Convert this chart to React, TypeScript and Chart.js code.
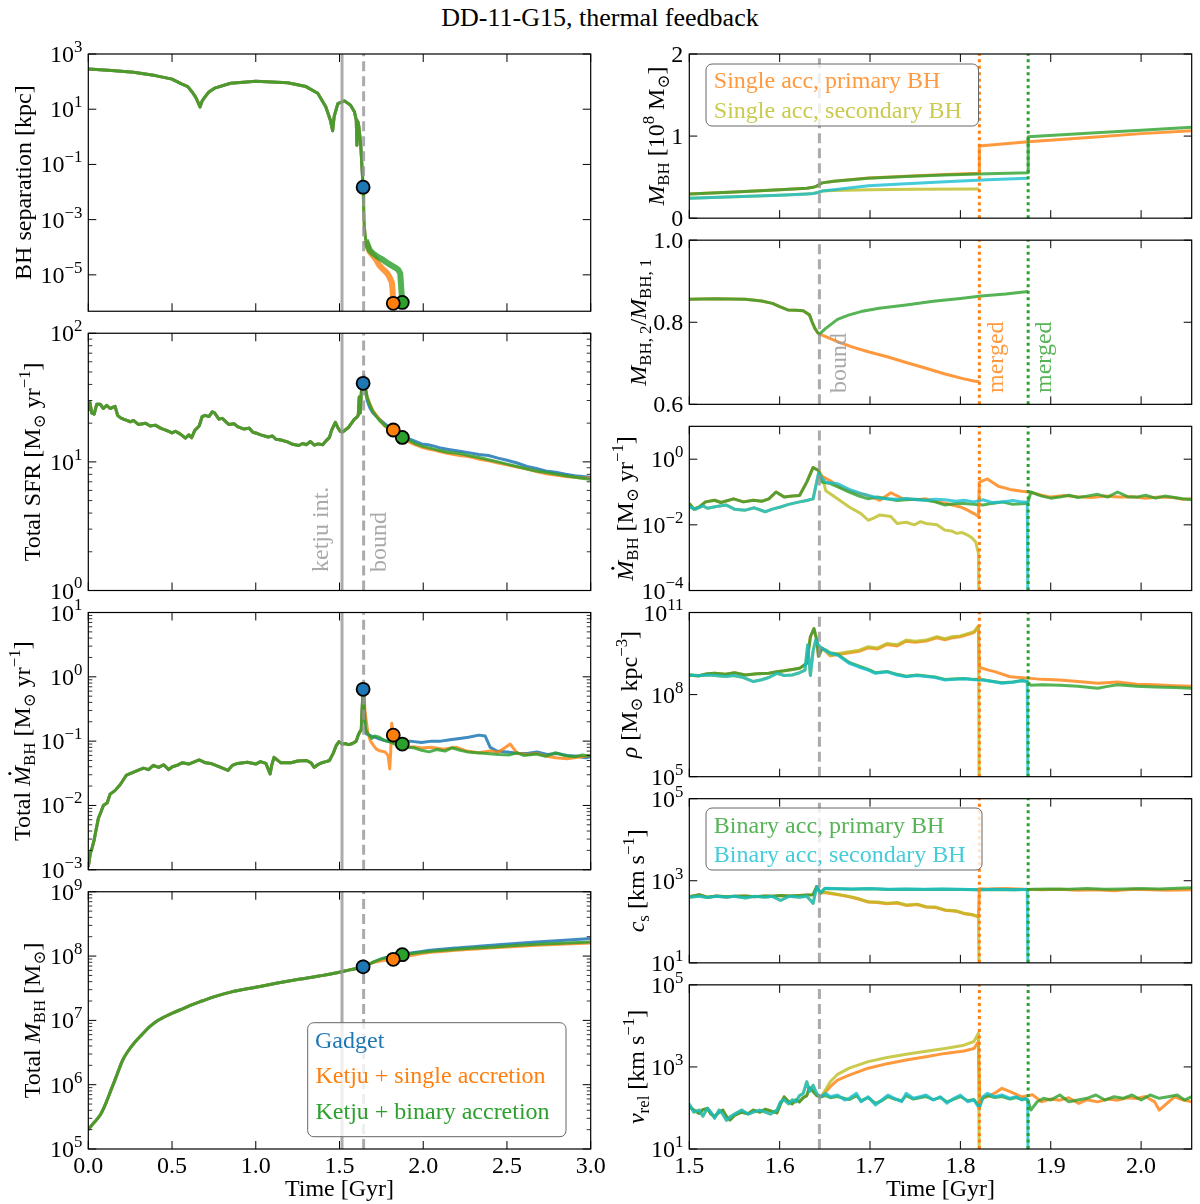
import React, { useEffect, useRef } from "react";
import { Chart, registerables } from "chart.js";

Chart.register(...registerables);

/* ============================ DATA ============================ */
// event times [Gyr]
const tKetju = 1.515;
const tBound = 1.644;
const tMergeSgl = 1.821;
const tMergeBin = 1.875;

// merger markers: Gadget, Ketju single, Ketju binary
const mrkT = [1.641, 1.821, 1.875];
const mrkSep = [0.015, 9.3e-7, 1.0e-6];
const mrkSfr = [40.8, 17.7, 15.5];
const mrkMdot = [0.64, 0.124, 0.09];
const mrkMass = [6.8e7, 8.9e7, 1.05e8];

// ---- left 1: BH separation [kpc]
const sepPreT = [0, 0.14, 0.27, 0.40, 0.50, 0.56, 0.594, 0.62, 0.64, 0.655, 0.667, 0.68, 0.697, 0.72, 0.754, 0.85, 1.0, 1.19, 1.30, 1.37, 1.418, 1.445, 1.459, 1.468, 1.49, 1.53, 1.566, 1.589, 1.600, 1.604, 1.610, 1.615, 1.622, 1.628, 1.634, 1.641];
const sepPre = [286, 250, 219, 165, 123, 81, 66, 42, 28, 18, 12, 20, 28, 42, 58, 87, 102, 91, 66, 38, 12.3, 4.1, 1.66, 5.4, 16, 20, 14, 8.1, 4.1, 0.5, 3.5, 2.5, 1.0, 0.4, 0.083, 0.015];
const sepBinT = [1.644, 1.648, 1.657, 1.68, 1.70, 1.726, 1.75, 1.784, 1.81, 1.835, 1.852, 1.863, 1.869, 1.875];
const sepBin = [3e-3, 5.5e-4, 1.8e-4, 7.9e-5, 6e-5, 4.6e-5, 3.8e-5, 2.75e-5, 2.2e-5, 1.8e-5, 1.5e-5, 1.1e-5, 3e-6, 1e-6];
const sepSglT = [1.644, 1.648, 1.657, 1.68, 1.70, 1.72, 1.738, 1.76, 1.784, 1.80, 1.806, 1.812, 1.817, 1.821];
const sepSgl = [3e-3, 5.5e-4, 1.6e-4, 7e-5, 5e-5, 3.5e-5, 2.2e-5, 1.6e-5, 1.15e-5, 8e-6, 6.5e-6, 5.5e-6, 3e-6, 9.3e-7];

// ---- left 2: total SFR
const sfrPreT = [0, 0.01, 0.02, 0.035, 0.05, 0.072, 0.09, 0.11, 0.13, 0.16, 0.175, 0.193, 0.21, 0.23, 0.251, 0.27, 0.30, 0.342, 0.37, 0.40, 0.434, 0.47, 0.50, 0.52, 0.548, 0.58, 0.60, 0.617, 0.635, 0.662, 0.68, 0.697, 0.72, 0.74, 0.754, 0.78, 0.80, 0.84, 0.87, 0.891, 0.93, 0.96, 0.983, 1.01, 1.03, 1.074, 1.10, 1.12, 1.15, 1.189, 1.22, 1.257, 1.28, 1.303, 1.326, 1.35, 1.372, 1.40, 1.418, 1.44, 1.452, 1.475, 1.49, 1.505, 1.52, 1.555, 1.589, 1.60, 1.612, 1.618, 1.624, 1.63, 1.636, 1.641];
const sfrPre = [25, 29, 24, 23.5, 28, 28, 26, 27.5, 26, 27, 23, 22, 21.5, 21, 20.5, 21, 19.5, 20, 19, 19.3, 18.2, 17.5, 16.8, 17.3, 16.5, 15.3, 16.2, 15.4, 17.5, 19, 22.5, 23, 22.5, 24.5, 24, 21.5, 21.8, 19.5, 19.8, 18.8, 18, 18.3, 17, 16.6, 16.2, 15.6, 15.9, 15, 14.8, 14.3, 13.7, 13.4, 13.9, 13.6, 14.4, 13.5, 13.8, 13.6, 14.5, 15.5, 17.5, 20.3, 18.5, 17.2, 17.1, 18.6, 21.5, 22, 23, 32, 24, 34, 41, 41];
const sfrPostT = [1.646, 1.655, 1.665, 1.68, 1.70, 1.738, 1.77, 1.80, 1.821, 1.84, 1.875, 1.92, 1.95, 1.99, 2.03, 2.07, 2.104, 2.15, 2.218, 2.27, 2.333, 2.39, 2.447, 2.50, 2.561, 2.62, 2.676, 2.73, 2.79, 2.85, 2.905, 2.95, 3.0];
const sfrBin = [47, 38, 32, 28, 24.5, 21, 19.2, 18, 17.3, 16.3, 15.5, 14.6, 13.9, 13.3, 12.9, 12.5, 12.2, 11.9, 11.6, 11.2, 10.8, 10.4, 10.0, 9.6, 9.2, 8.8, 8.5, 8.3, 8.05, 7.8, 7.6, 7.45, 7.3];
const sfrGad = [44, 36, 30, 26.5, 24, 21.5, 19.8, 18.5, 17.8, 17, 16, 15, 14.5, 13.8, 13.6, 13.2, 12.8, 12.5, 12.1, 11.8, 11.4, 11.2, 10.7, 10.3, 9.8, 9.2, 8.9, 8.5, 8.3, 8.0, 7.8, 7.7, 7.6];
const sfrSgl = [46, 37, 32, 28.5, 25, 21.5, 19, 18, 17.7, 16.5, 15.2, 14.2, 13.6, 13, 12.6, 12.3, 12, 11.6, 11.2, 11.0, 10.5, 10.2, 9.8, 9.5, 9.1, 8.8, 8.4, 8.1, 7.9, 7.7, 7.6, 7.5, 7.5];

// ---- left 3: total BH accretion rate
const mdotPreT = [0, 0.012, 0.023, 0.035, 0.045, 0.06, 0.072, 0.09, 0.113, 0.13, 0.159, 0.19, 0.228, 0.26, 0.296, 0.33, 0.36, 0.388, 0.42, 0.45, 0.48, 0.502, 0.53, 0.56, 0.60, 0.662, 0.70, 0.731, 0.78, 0.834, 0.86, 0.891, 0.95, 1.0, 1.028, 1.06, 1.086, 1.095, 1.109, 1.15, 1.211, 1.25, 1.303, 1.33, 1.349, 1.37, 1.394, 1.42, 1.44, 1.463, 1.48, 1.497, 1.515, 1.532, 1.555, 1.578, 1.60, 1.612, 1.622, 1.630, 1.636, 1.641];
const mdotPre = [1.1e-3, 1.8e-3, 2.2e-3, 2.9e-3, 4.0e-3, 6.3e-3, 7.5e-3, 1.0e-2, 1.1e-2, 1.5e-2, 1.7e-2, 2.1e-2, 2.97e-2, 3.2e-2, 3.5e-2, 3.8e-2, 3.6e-2, 4.2e-2, 3.9e-2, 4.3e-2, 3.6e-2, 4.0e-2, 4.2e-2, 4.6e-2, 4.4e-2, 5.1e-2, 4.6e-2, 4.5e-2, 4.0e-2, 3.5e-2, 4.2e-2, 4.5e-2, 4.7e-2, 4.4e-2, 4.8e-2, 4.5e-2, 3.1e-2, 4.2e-2, 5.6e-2, 4.6e-2, 4.6e-2, 4.9e-2, 5.0e-2, 4.6e-2, 3.9e-2, 4.3e-2, 4.6e-2, 4.8e-2, 5.0e-2, 6.5e-2, 8.5e-2, 9.8e-2, 9.0e-2, 9.2e-2, 8.8e-2, 9.2e-2, 0.1, 0.124, 0.14, 0.15, 0.35, 0.62];
const mdotGadT = [1.646, 1.652, 1.66, 1.692, 1.73, 1.78, 1.83, 1.87, 1.92, 1.99, 2.05, 2.104, 2.16, 2.218, 2.27, 2.333, 2.37, 2.40, 2.44, 2.5, 2.56, 2.62, 2.68, 2.74, 2.8, 2.86, 2.92, 2.97, 3.0];
const mdotGad = [0.4, 0.2, 0.13, 0.12, 0.11, 0.1, 0.095, 0.09, 0.1, 0.095, 0.1, 0.1, 0.105, 0.11, 0.115, 0.124, 0.12, 0.08, 0.07, 0.068, 0.065, 0.064, 0.068, 0.062, 0.064, 0.06, 0.058, 0.055, 0.057];
const mdotBinT = [1.646, 1.652, 1.657, 1.67, 1.692, 1.71, 1.738, 1.76, 1.784, 1.81, 1.83, 1.85, 1.875, 1.90, 1.944, 1.99, 2.035, 2.08, 2.13, 2.172, 2.22, 2.264, 2.32, 2.378, 2.45, 2.516, 2.56, 2.6, 2.676, 2.73, 2.79, 2.85, 2.905, 2.95, 3.0];
const mdotBin = [0.45, 0.2, 0.15, 0.13, 0.11, 0.12, 0.115, 0.105, 0.10, 0.095, 0.09, 0.086, 0.09, 0.08, 0.079, 0.072, 0.068, 0.074, 0.07, 0.079, 0.072, 0.068, 0.066, 0.064, 0.062, 0.061, 0.066, 0.06, 0.063, 0.058, 0.066, 0.059, 0.057, 0.061, 0.058];
const mdotSglT = [1.646, 1.652, 1.669, 1.685, 1.703, 1.72, 1.738, 1.772, 1.79, 1.80, 1.806, 1.812, 1.821, 1.83, 1.86, 1.90, 1.94, 1.99, 2.05, 2.12, 2.2, 2.26, 2.33, 2.40, 2.45, 2.52, 2.56, 2.62, 2.68, 2.74, 2.79, 2.86, 2.92, 3.0];
const mdotSgl = [0.5, 0.3, 0.135, 0.1, 0.086, 0.075, 0.071, 0.068, 0.06, 0.037, 0.07, 0.19, 0.124, 0.095, 0.085, 0.08, 0.082, 0.078, 0.08, 0.075, 0.08, 0.07, 0.066, 0.07, 0.068, 0.09, 0.065, 0.062, 0.064, 0.058, 0.055, 0.053, 0.056, 0.06];

// ---- left 4: total BH mass
const massPreT = [0, 0.03, 0.072, 0.1, 0.136, 0.17, 0.205, 0.24, 0.273, 0.32, 0.365, 0.41, 0.457, 0.509, 0.56, 0.617, 0.68, 0.754, 0.85, 1.006, 1.13, 1.257, 1.38, 1.486, 1.56, 1.641];
const massPre = [2.0e5, 2.5e5, 3.4e5, 4.8e5, 8.3e5, 1.4e6, 2.4e6, 3.4e6, 4.4e6, 6.0e6, 7.9e6, 9.8e6, 1.14e7, 1.32e7, 1.5e7, 1.74e7, 2.0e7, 2.34e7, 2.75e7, 3.3e7, 3.8e7, 4.35e7, 4.9e7, 5.5e7, 6.1e7, 6.8e7];
const massPostT = [1.70, 1.76, 1.821, 1.875, 1.99, 2.218, 2.447, 2.676, 3.0];
const massBin = [8.0e7, 9.2e7, 9.9e7, 1.05e8, 1.15e8, 1.29e8, 1.4e8, 1.52e8, 1.66e8];
const massSgl = [7.9e7, 8.5e7, 8.9e7, 9.6e7, 1.1e8, 1.24e8, 1.36e8, 1.47e8, 1.6e8];
const massGad = [8.0e7, 9.2e7, 1.0e8, 1.06e8, 1.18e8, 1.35e8, 1.5e8, 1.65e8, 1.88e8];

// ---- right 1: individual BH mass [1e8 Msun]
const mPreT = [1.5, 1.55, 1.6, 1.63, 1.637, 1.641, 1.644, 1.647];
const mPrim = [0.295, 0.318, 0.345, 0.365, 0.376, 0.39, 0.41, 0.43];
const mSec = [0.242, 0.26, 0.28, 0.295, 0.30, 0.31, 0.32, 0.33];
const mBinT = [1.66, 1.698, 1.74, 1.783, 1.83, 1.875, 1.875, 1.95, 2.0, 2.056];
const mBinPrim = [0.45, 0.486, 0.508, 0.526, 0.542, 0.554, 0.993, 1.04, 1.07, 1.107];
const mBinSecT = [1.66, 1.698, 1.74, 1.783, 1.83, 1.875];
const mBinSec = [0.345, 0.396, 0.42, 0.444, 0.468, 0.486];
const mSglT = [1.66, 1.698, 1.74, 1.783, 1.821, 1.821, 1.875, 1.95, 2.0, 2.056];
const mSglPrim = [0.45, 0.488, 0.512, 0.532, 0.548, 0.879, 0.932, 0.99, 1.03, 1.066];
const mSglSecT = [1.66, 1.70, 1.75, 1.821];
const mSglSec = [0.338, 0.345, 0.352, 0.355];

// ---- right 2: mass ratio
const qPreT = [1.5, 1.528, 1.562, 1.58, 1.592, 1.60, 1.609, 1.618, 1.626, 1.633, 1.636, 1.639, 1.642, 1.644];
const qPre = [0.856, 0.857, 0.856, 0.852, 0.846, 0.838, 0.830, 0.829, 0.828, 0.818, 0.80, 0.785, 0.775, 0.771];
const qBinT = [1.651, 1.664, 1.677, 1.69, 1.71, 1.74, 1.77, 1.80, 1.823, 1.85, 1.875];
const qBin = [0.785, 0.807, 0.818, 0.826, 0.834, 0.842, 0.851, 0.858, 0.864, 0.869, 0.875];
const qSglT = [1.651, 1.664, 1.68, 1.698, 1.719, 1.74, 1.762, 1.783, 1.804, 1.815, 1.821];
const qSgl = [0.765, 0.753, 0.74, 0.728, 0.716, 0.702, 0.688, 0.674, 0.662, 0.657, 0.655];

// ---- right 3: individual accretion rates (0 = no longer accreting)
const mdPreT = [1.5, 1.505, 1.511, 1.518, 1.528, 1.535, 1.549, 1.56, 1.571, 1.58, 1.588, 1.596, 1.605, 1.614, 1.622, 1.630, 1.637, 1.643];
const mdPrePrim = [0.045, 0.03, 0.035, 0.05, 0.056, 0.048, 0.062, 0.05, 0.056, 0.052, 0.062, 0.1, 0.07, 0.075, 0.078, 0.2, 0.56, 0.45];
const mdPreSecT = [1.5, 1.507, 1.515, 1.52, 1.53, 1.541, 1.55, 1.562, 1.572, 1.584, 1.592, 1.601, 1.61, 1.622, 1.63, 1.637, 1.643];
const mdPreSec = [0.035, 0.03, 0.038, 0.032, 0.036, 0.04, 0.03, 0.028, 0.033, 0.025, 0.03, 0.035, 0.042, 0.05, 0.055, 0.062, 0.37];
const mdBinPrimT = [1.647, 1.656, 1.665, 1.677, 1.688, 1.698, 1.708, 1.719, 1.73, 1.74, 1.75, 1.762, 1.772, 1.783, 1.795, 1.804, 1.815, 1.825, 1.835, 1.846, 1.858, 1.872, 1.875, 1.878, 1.89, 1.90, 1.91, 1.92, 1.93, 1.94, 1.952, 1.963, 1.974, 1.985, 1.995, 2.005, 2.016, 2.026, 2.037, 2.046, 2.056];
const mdBinPrim = [0.2, 0.18, 0.14, 0.1, 0.075, 0.062, 0.07, 0.062, 0.055, 0.058, 0.06, 0.056, 0.05, 0.04, 0.045, 0.045, 0.042, 0.04, 0.045, 0.05, 0.042, 0.045, 0.05, 0.1, 0.075, 0.065, 0.07, 0.08, 0.068, 0.075, 0.085, 0.07, 0.1, 0.072, 0.07, 0.08, 0.065, 0.075, 0.068, 0.062, 0.058];
const mdSglPrimT = [1.647, 1.656, 1.665, 1.677, 1.688, 1.698, 1.711, 1.723, 1.735, 1.740, 1.752, 1.762, 1.774, 1.785, 1.791, 1.80, 1.808, 1.815, 1.82, 1.821, 1.830, 1.842, 1.855, 1.868, 1.876, 1.89, 1.90, 1.915, 1.93, 1.945, 1.96, 1.975, 1.99, 2.005, 2.02, 2.035, 2.046, 2.056];
const mdSglPrim = [0.3, 0.22, 0.15, 0.11, 0.09, 0.078, 0.056, 0.095, 0.065, 0.062, 0.058, 0.062, 0.05, 0.045, 0.04, 0.035, 0.028, 0.022, 0.018, 0.2, 0.25, 0.15, 0.12, 0.105, 0.1, 0.08, 0.07, 0.078, 0.072, 0.068, 0.075, 0.07, 0.072, 0.065, 0.07, 0.068, 0.06, 0.062];
const mdBinSecT = [1.651, 1.664, 1.677, 1.69, 1.698, 1.71, 1.719, 1.73, 1.74, 1.752, 1.762, 1.772, 1.783, 1.795, 1.804, 1.815, 1.825, 1.835, 1.846, 1.858, 1.868, 1.874, 1.875];
const mdBinSec = [0.2, 0.18, 0.12, 0.09, 0.078, 0.065, 0.062, 0.06, 0.064, 0.058, 0.056, 0.06, 0.058, 0.052, 0.056, 0.05, 0.058, 0.048, 0.05, 0.055, 0.05, 0.05, 0];
const mdSglSecT = [1.647, 1.651, 1.664, 1.677, 1.69, 1.698, 1.704, 1.711, 1.723, 1.73, 1.740, 1.749, 1.756, 1.762, 1.774, 1.783, 1.79, 1.796, 1.802, 1.808, 1.813, 1.817, 1.82, 1.821];
const mdSglSec = [0.3, 0.11, 0.062, 0.035, 0.022, 0.0138, 0.016, 0.02, 0.018, 0.011, 0.012, 0.01, 0.0125, 0.011, 0.01, 0.0069, 0.0065, 0.0055, 0.0058, 0.0049, 0.004, 0.003, 0.00134, 0];

// ---- right 4: gas density around BH
const rhoPreT = [1.5, 1.51, 1.52, 1.528, 1.54, 1.55, 1.562, 1.575, 1.588, 1.597, 1.605, 1.614, 1.622, 1.630, 1.634, 1.638, 1.641, 1.643, 1.647];
const rhoPrePrim = [5.2e8, 4.8e8, 5.8e8, 6.0e8, 5.5e8, 6.3e8, 5.2e8, 5.8e8, 6.0e8, 6.8e8, 7.4e8, 8.3e8, 9.1e8, 1.4e9, 1.3e10, 2.6e10, 1.0e10, 2.5e9, 4.9e9];
const rhoPreSecT = [1.5, 1.51, 1.52, 1.528, 1.541, 1.549, 1.56, 1.571, 1.58, 1.588, 1.597, 1.605, 1.614, 1.622, 1.628, 1.631, 1.634, 1.637, 1.64, 1.643, 1.647];
const rhoPreSec = [5.2e8, 5.0e8, 5.2e8, 5.0e8, 4.6e8, 5.0e8, 4.2e8, 3.0e8, 3.5e8, 4.2e8, 6.0e8, 5.0e8, 5.2e8, 6.3e8, 7.9e8, 6.5e9, 5.0e8, 4.0e9, 1.0e10, 6.3e9, 4.9e9];
const rhoBinPrimT = [1.651, 1.656, 1.664, 1.677, 1.688, 1.698, 1.706, 1.719, 1.73, 1.740, 1.752, 1.762, 1.772, 1.783, 1.795, 1.804, 1.815, 1.825, 1.835, 1.846, 1.858, 1.868, 1.874, 1.878, 1.89, 1.91, 1.93, 1.952, 1.963, 1.974, 1.995, 2.015, 2.037, 2.056];
const rhoBinPrim = [4.2e9, 3.4e9, 3.0e9, 1.5e9, 1.1e9, 8.3e8, 6.3e8, 7.0e8, 5.5e8, 4.7e8, 5.2e8, 4.8e8, 4.4e8, 3.6e8, 3.8e8, 3.9e8, 3.6e8, 3.5e8, 3.1e8, 2.7e8, 2.9e8, 3.3e8, 3.0e8, 2.2e8, 2.3e8, 2.2e8, 2.0e8, 1.7e8, 2.0e8, 2.3e8, 2.0e8, 1.9e8, 1.8e8, 1.7e8];
const rhoBinSecT = [1.651, 1.656, 1.664, 1.677, 1.688, 1.698, 1.706, 1.719, 1.73, 1.740, 1.752, 1.762, 1.772, 1.783, 1.795, 1.804, 1.815, 1.825, 1.835, 1.846, 1.858, 1.868, 1.874, 1.875];
const rhoBinSec = [4.0e9, 3.2e9, 2.8e9, 1.4e9, 1.0e9, 7.9e8, 6.0e8, 6.8e8, 5.2e8, 4.5e8, 5.0e8, 4.6e8, 4.2e8, 3.4e8, 3.6e8, 3.8e8, 3.5e8, 3.4e8, 3.0e8, 2.6e8, 2.8e8, 3.2e8, 3.0e8, 0];
const rhoSglSecT = [1.651, 1.656, 1.665, 1.677, 1.688, 1.698, 1.708, 1.719, 1.73, 1.74, 1.75, 1.762, 1.774, 1.783, 1.791, 1.80, 1.808, 1.815, 1.82, 1.821];
const rhoSglSec = [4.0e9, 2.8e9, 3.2e9, 3.7e9, 4.2e9, 5.6e9, 5.0e9, 7.4e9, 6.6e9, 9.8e9, 8.9e9, 9.8e9, 1.3e10, 1.1e10, 1.3e10, 1.4e10, 1.7e10, 2.0e10, 3.2e10, 0];
const rhoSglPrimT = [1.651, 1.656, 1.665, 1.677, 1.688, 1.698, 1.708, 1.719, 1.73, 1.74, 1.75, 1.762, 1.774, 1.783, 1.791, 1.80, 1.808, 1.815, 1.82, 1.821, 1.83, 1.838, 1.855, 1.875, 1.89, 1.91, 1.93, 1.952, 1.974, 1.995, 2.015, 2.037, 2.056];
const rhoSglPrim = [3.8e9, 2.6e9, 2.9e9, 3.4e9, 3.8e9, 5.1e9, 4.6e9, 6.8e9, 6.0e9, 8.9e9, 8.1e9, 9.0e9, 1.2e10, 1.0e10, 1.2e10, 1.3e10, 1.55e10, 1.85e10, 3.0e10, 1.0e9, 8.0e8, 6.9e8, 4.5e8, 4.0e8, 3.6e8, 3.4e8, 3.0e8, 2.6e8, 2.9e8, 2.4e8, 2.3e8, 2.1e8, 2.0e8];

// ---- right 5: sound speed [km/s]
const csPreT = [1.5, 1.511, 1.52, 1.53, 1.541, 1.55, 1.562, 1.572, 1.584, 1.592, 1.601, 1.61, 1.622, 1.63, 1.637, 1.641, 1.645];
const csPrePrim = [407, 457, 398, 427, 407, 417, 427, 407, 427, 417, 437, 427, 437, 447, 457, 724, 501];
const csPreSec = [398, 417, 389, 417, 398, 417, 380, 417, 398, 417, 331, 417, 398, 417, 282, 724, 501];
const csBinPrimT = [1.65, 1.66, 1.68, 1.70, 1.72, 1.74, 1.76, 1.78, 1.80, 1.82, 1.84, 1.86, 1.874, 1.88, 1.90, 1.92, 1.94, 1.96, 1.98, 2.0, 2.02, 2.04, 2.056];
const csBinPrim = [650, 640, 625, 640, 610, 625, 610, 625, 610, 600, 610, 600, 610, 617, 631, 617, 646, 617, 631, 646, 631, 660, 676];
const csBinSecT = [1.65, 1.66, 1.68, 1.70, 1.72, 1.74, 1.76, 1.78, 1.80, 1.82, 1.84, 1.86, 1.874, 1.875];
const csBinSec = [660, 646, 631, 646, 617, 631, 617, 631, 617, 603, 617, 603, 617, 0];
const csSglSecT = [1.65, 1.656, 1.667, 1.677, 1.688, 1.698, 1.708, 1.719, 1.73, 1.74, 1.752, 1.762, 1.772, 1.783, 1.795, 1.804, 1.813, 1.82, 1.821];
const csSglSec = [525, 501, 457, 417, 363, 309, 302, 282, 295, 257, 269, 234, 229, 195, 186, 162, 151, 135, 0];
const csSglPrimT = [1.65, 1.656, 1.667, 1.677, 1.688, 1.698, 1.708, 1.719, 1.73, 1.74, 1.752, 1.762, 1.772, 1.783, 1.795, 1.804, 1.813, 1.82, 1.821, 1.83, 1.85, 1.87, 1.89, 1.91, 1.93, 1.95, 1.97, 1.99, 2.01, 2.03, 2.056];
const csSglPrim = [515, 490, 447, 407, 355, 302, 295, 275, 288, 251, 263, 229, 224, 191, 182, 158, 148, 132, 640, 631, 646, 617, 603, 617, 589, 603, 575, 617, 603, 589, 603];

// ---- right 6: relative velocity [km/s]
const vPreT = [1.5, 1.505, 1.511, 1.515, 1.52, 1.524, 1.528, 1.533, 1.537, 1.541, 1.545, 1.55, 1.558, 1.565, 1.571, 1.578, 1.584, 1.59, 1.597, 1.601, 1.605, 1.61, 1.614, 1.618, 1.622, 1.626, 1.630, 1.633, 1.637, 1.641, 1.645];
const vPrePrim = [107, 89, 74, 91, 98, 71, 62, 79, 89, 63, 51, 66, 79, 72, 89, 79, 93, 85, 76, 126, 186, 141, 126, 158, 141, 178, 200, 316, 251, 200, 186];
const vPreSec = [126, 79, 89, 63, 98, 79, 56, 89, 71, 50, 60, 71, 89, 71, 79, 89, 79, 71, 89, 141, 158, 126, 158, 141, 200, 224, 437, 251, 355, 224, 186];
const vSglSecT = [1.647, 1.656, 1.664, 1.677, 1.698, 1.719, 1.740, 1.762, 1.783, 1.804, 1.815, 1.82, 1.821];
const vSglSec = [200, 437, 661, 933, 1349, 1698, 2042, 2399, 2818, 3388, 4169, 6607, 0];
const vSglPrimT = [1.647, 1.656, 1.664, 1.677, 1.698, 1.719, 1.740, 1.762, 1.783, 1.804, 1.815, 1.82, 1.8215, 1.825, 1.832, 1.838, 1.846, 1.855, 1.868, 1.88, 1.89, 1.90, 1.91, 1.92, 1.931, 1.94, 1.952, 1.963, 1.974, 1.985, 1.995, 2.005, 2.015, 2.02, 2.028, 2.037, 2.046, 2.056];
const vSglPrim = [200, 331, 479, 631, 933, 1202, 1479, 1778, 2138, 2455, 2818, 4169, 158, 172, 200, 229, 302, 251, 186, 209, 141, 166, 155, 178, 129, 158, 141, 166, 155, 178, 170, 191, 141, 89, 126, 186, 158, 141];
const vBinSecT = [1.651, 1.656, 1.664, 1.672, 1.677, 1.685, 1.69, 1.698, 1.706, 1.713, 1.72, 1.727, 1.735, 1.74, 1.748, 1.755, 1.762, 1.77, 1.778, 1.785, 1.793, 1.80, 1.808, 1.815, 1.821, 1.825, 1.83, 1.838, 1.846, 1.855, 1.862, 1.868, 1.872, 1.8745, 1.875];
const vBinSec = [228, 188, 207, 156, 172, 228, 142, 188, 118, 156, 207, 172, 142, 228, 172, 188, 207, 156, 188, 130, 172, 207, 142, 156, 98, 188, 228, 188, 207, 172, 188, 156, 172, 156, 0];
const vBinPrimT = [1.651, 1.656, 1.664, 1.672, 1.677, 1.685, 1.69, 1.698, 1.706, 1.713, 1.72, 1.727, 1.735, 1.74, 1.748, 1.755, 1.762, 1.77, 1.778, 1.785, 1.793, 1.80, 1.808, 1.815, 1.821, 1.825, 1.83, 1.838, 1.846, 1.855, 1.862, 1.868, 1.872, 1.8745, 1.878, 1.885, 1.892, 1.90, 1.91, 1.92, 1.93, 1.94, 1.95, 1.96, 1.97, 1.98, 1.99, 2.0, 2.01, 2.02, 2.03, 2.04, 2.048, 2.056];
const vBinPrim = [200, 178, 190, 170, 160, 200, 150, 178, 130, 150, 190, 165, 150, 200, 165, 178, 190, 160, 180, 140, 165, 190, 150, 160, 110, 178, 200, 180, 190, 165, 180, 160, 165, 160, 89, 142, 172, 156, 207, 142, 156, 172, 207, 156, 188, 172, 207, 156, 207, 172, 188, 207, 156, 188];

// axis ticks
const xTicksLeft = [0, 0.5, 1.0, 1.5, 2.0, 2.5, 3.0];
const xTickTextLeft = ["0.0", "0.5", "1.0", "1.5", "2.0", "2.5", "3.0"];
const xTicksRight = [1.5, 1.6, 1.7, 1.8, 1.9, 2.0];
const xTickTextRight = ["1.5", "1.6", "1.7", "1.8", "1.9", "2.0"];

/* ============================ STYLE / LAYOUT ============================ */
const FONT = '"Liberation Serif", "Times New Roman", "DejaVu Serif", serif';
const FS = 24;
const GRAY = "rgba(150,150,150,0.8)";
const GRAY_TXT = "rgba(160,160,160,0.9)";
const C_BLUE = "#1f77b4", C_ORANGE = "#ff7f0e", C_GREEN = "#2ca02c";
const LB = "rgba(31,119,180,0.85)", LO = "rgba(255,127,14,0.8)", LG = "rgba(44,160,44,0.82)";
const RO = "rgba(255,127,14,0.8)", RY = "rgba(188,189,34,0.8)", RG = "rgba(44,160,44,0.8)", RC = "rgba(23,190,207,0.8)";

const LX0 = 88.3, LX1 = 590.7, RX0 = 689.3, RX1 = 1191.7;
const TOP = 54, GAP = 22, LH = 257.25, RH = 164.17;

type Seg = [string, string?];

function segFont(st: string | undefined, size: number) {
  const small = st === "sub" || st === "sup";
  const it = st === "i" || st === "dot";
  return `${it ? "italic " : ""}${small ? size * 0.7 : size}px ${FONT}`;
}
function richWidth(ctx: CanvasRenderingContext2D, segs: Seg[], size: number) {
  let w = 0;
  for (const [t, st] of segs) { ctx.font = segFont(st, size); w += ctx.measureText(t).width; }
  return w;
}
function drawRich(ctx: CanvasRenderingContext2D, segs: Seg[], x: number, y: number, size: number, color: string, align: string) {
  const w = richWidth(ctx, segs, size);
  let cx = align === "center" ? x - w / 2 : align === "right" ? x - w : x;
  ctx.fillStyle = color;
  ctx.textAlign = "left";
  ctx.textBaseline = "alphabetic";
  for (const [t, st] of segs) {
    ctx.font = segFont(st, size);
    const dy = st === "sub" ? size * 0.2 : st === "sup" ? -size * 0.42 : 0;
    const tw = ctx.measureText(t).width;
    ctx.fillText(t, cx, y + dy);
    if (st === "dot") {
      ctx.beginPath();
      ctx.arc(cx + tw * 0.62, y - size * 0.84, size * 0.065, 0, Math.PI * 2);
      ctx.fill();
    }
    cx += tw;
  }
}

const P = (t: number[], v: number[], floor = 0) => t.map((x, i) => ({ x, y: v[i] > 0 ? v[i] : floor }));
const cat = (...a: any[][]) => ([] as any[]).concat(...a);
const pow = (e: number): Seg[] => [["10"], [e < 0 ? "\u2212" + -e : String(e), "sup"]];
function minorLog(lo: number, hi: number) {
  const out: number[] = [];
  for (let d = lo; d < hi; d++) for (let k = 2; k <= 9; k++) out.push(k * Math.pow(10, d));
  return out;
}

function line(data: any[], color: string, width = 3, extra: any = {}) {
  return { data, borderColor: color, backgroundColor: color, borderWidth: width, pointRadius: 0, fill: false, tension: 0, ...extra };
}
function vline(x: number, y0: number, y1: number, color: string, dash: number[], width = 3) {
  return line([{ x, y: y0 }, { x, y: y1 }], color, width, { borderDash: dash });
}
function marker(x: number, y: number, color: string) {
  return { data: [{ x, y }], showLine: false, pointRadius: 6.5, pointHoverRadius: 6.5, pointBorderWidth: 1.8, pointBorderColor: "#000", pointBackgroundColor: color, clip: false };
}

function leftSets(g: any[], o: any[], b: any[], mk: number[], y0: number, y1: number, extra: any = {}) {
  return [
    marker(mrkT[0], mk[0], C_BLUE),
    marker(mrkT[1], mk[1], C_ORANGE),
    marker(mrkT[2], mk[2], C_GREEN),
    vline(tKetju, y0, y1, GRAY, []),
    vline(tBound, y0, y1, GRAY, [10, 5]),
    line(g, LG, 3, extra),
    line(o, LO, 3, extra),
    line(b, LB, 3, extra),
  ];
}
function rightSets(o: any[], y: any[], g: any[], c: any[], y0: number, y1: number, extra: any = {}) {
  return [
    vline(tMergeBin, y0, y1, C_GREEN, [3, 3.5]),
    vline(tMergeSgl, y0, y1, C_ORANGE, [3, 3.5]),
    vline(tBound, y0, y1, GRAY, [10, 5]),
    line(c, RC, 3, extra),
    line(g, RG, 3, extra),
    line(y, RY, 3, extra),
    line(o, RO, 3, extra),
  ];
}

function frame(col: number, row: number, last: boolean) {
  const h = col === 0 ? LH : RH;
  const top = TOP + row * (h + GAP);
  const bottom = top + h;
  const cy = Math.floor(top) - 36;
  const ch = last ? 1204 - cy : Math.ceil(bottom) + 36 - cy;
  return { left: col === 0 ? LX0 : RX0, right: col === 0 ? LX1 : RX1, top, bottom, cx: col === 0 ? 0 : 600, cy, cw: col === 0 ? 625 : 600, ch };
}

const band = { segment: { borderWidth: (c: any) => (c.p0.parsed.x >= 1.65 ? 6 : undefined) } };

const PANELS: any[] = [
  {
    id: "L1", ...frame(0, 0, false), xMin: 0, xMax: 3, yMin: 4.8e-7, yMax: 1e3, log: true,
    yTicks: [3, 1, -1, -3, -5].map((e) => Math.pow(10, e)), yTickLabels: [3, 1, -1, -3, -5].map(pow), yMinor: [],
    xTicks: xTicksLeft, xTickLabels: null,
    yLabel: [["BH separation [kpc]"]] as Seg[], yLabelX: 31,
    mk: () => leftSets(cat(P(sepPreT, sepPre), P(sepBinT, sepBin)), cat(P(sepPreT, sepPre), P(sepSglT, sepSgl)), P(sepPreT, sepPre), mrkSep, 4.8e-7, 1e3, band),
    notes: [],
  },
  {
    id: "L2", ...frame(0, 1, false), xMin: 0, xMax: 3, yMin: 1, yMax: 100, log: true,
    yTicks: [100, 10, 1], yTickLabels: [2, 1, 0].map(pow), yMinor: minorLog(0, 2),
    xTicks: xTicksLeft, xTickLabels: null,
    yLabel: [["Total SFR [M"], ["\u2299", "sub"], [" yr"], ["\u22121", "sup"], ["]"]] as Seg[], yLabelX: 40,
    mk: () => leftSets(cat(P(sfrPreT, sfrPre), P(sfrPostT, sfrBin)), cat(P(sfrPreT, sfrPre), P(sfrPostT, sfrSgl)), cat(P(sfrPreT, sfrPre), P(sfrPostT, sfrGad)), mrkSfr, 1, 100),
    notes: [
      { segs: [["ketju int."]], x: 328, y: 572, color: GRAY_TXT },
      { segs: [["bound"]], x: 386, y: 572, color: GRAY_TXT },
    ],
  },
  {
    id: "L3", ...frame(0, 2, false), xMin: 0, xMax: 3, yMin: 1e-3, yMax: 10, log: true,
    yTicks: [1, 0, -1, -2, -3].map((e) => Math.pow(10, e)), yTickLabels: [1, 0, -1, -2, -3].map(pow), yMinor: minorLog(-3, 1),
    xTicks: xTicksLeft, xTickLabels: null,
    yLabel: [["Total "], ["M", "dot"], ["BH", "sub"], [" [M"], ["\u2299", "sub"], [" yr"], ["\u22121", "sup"], ["]"]] as Seg[], yLabelX: 30,
    mk: () => leftSets(cat(P(mdotPreT, mdotPre), P(mdotBinT, mdotBin)), cat(P(mdotPreT, mdotPre), P(mdotSglT, mdotSgl)), cat(P(mdotPreT, mdotPre), P(mdotGadT, mdotGad)), mrkMdot, 1e-3, 10),
    notes: [],
  },
  {
    id: "L4", ...frame(0, 3, true), xMin: 0, xMax: 3, yMin: 1e5, yMax: 1e9, log: true,
    yTicks: [9, 8, 7, 6, 5].map((e) => Math.pow(10, e)), yTickLabels: [9, 8, 7, 6, 5].map(pow), yMinor: minorLog(5, 9),
    xTicks: xTicksLeft, xTickLabels: xTickTextLeft, xLabel: "Time [Gyr]",
    yLabel: [["Total "], ["M", "i"], ["BH", "sub"], [" [M"], ["\u2299", "sub"], ["]"]] as Seg[], yLabelX: 40,
    mk: () => leftSets(cat(P(massPreT, massPre), P(massPostT, massBin)), cat(P(massPreT, massPre), P(massPostT, massSgl)), cat(P(massPreT, massPre), P(massPostT, massGad)), mrkMass, 1e5, 1e9, { cubicInterpolationMode: "monotone" }),
    notes: [],
    legend: {
      box: [307.7, 1022.7, 566, 1136.7],
      rows: [
        { text: "Gadget", color: C_BLUE, x: 315, y: 1047.5 },
        { text: "Ketju + single accretion", color: C_ORANGE, x: 315.5, y: 1083.3 },
        { text: "Ketju + binary accretion", color: C_GREEN, x: 315.5, y: 1119.3 },
      ],
    },
  },
  {
    id: "R1", ...frame(1, 0, false), xMin: 1.5, xMax: 2.056, yMin: 0, yMax: 2, log: false,
    yTicks: [0, 1, 2], yTickLabels: [[["0"]], [["1"]], [["2"]]], yMinor: [],
    xTicks: xTicksRight, xTickLabels: null,
    yLabel: [["M", "i"], ["BH", "sub"], [" [10"], ["8", "sup"], [" M"], ["\u2299", "sub"], ["]"]] as Seg[], yLabelX: 664,
    mk: () => rightSets(
      cat(P(mPreT, mPrim), P(mSglT, mSglPrim)),
      cat(P(mPreT, mSec), P(mSglSecT, mSglSec)),
      cat(P(mPreT, mPrim), P(mBinT, mBinPrim)),
      cat(P(mPreT, mSec), P(mBinSecT, mBinSec)),
      0, 2),
    notes: [],
    legend: {
      box: [706, 64, 978.5, 126],
      rows: [
        { text: "Single acc, primary BH", color: RO, x: 713.8, y: 88.3 },
        { text: "Single acc, secondary BH", color: RY, x: 713.8, y: 117.5 },
      ],
    },
  },
  {
    id: "R2", ...frame(1, 1, false), xMin: 1.5, xMax: 2.056, yMin: 0.6, yMax: 1.0, log: false,
    yTicks: [0.6, 0.8, 1.0], yTickLabels: [[["0.6"]], [["0.8"]], [["1.0"]]], yMinor: [],
    xTicks: xTicksRight, xTickLabels: null,
    yLabel: [["M", "i"], ["BH, 2", "sub"], ["/"], ["M", "i"], ["BH, 1", "sub"]] as Seg[], yLabelX: 646,
    mk: () => rightSets(cat(P(qPreT, qPre), P(qSglT, qSgl)), [], cat(P(qPreT, qPre), P(qBinT, qBin)), [], 0.6, 1.0),
    notes: [
      { segs: [["bound"]], x: 846, y: 393, color: GRAY_TXT },
      { segs: [["merged"]], x: 1003, y: 393, color: RO },
      { segs: [["merged"]], x: 1051, y: 393, color: RG },
    ],
  },
  {
    id: "R3", ...frame(1, 2, false), xMin: 1.5, xMax: 2.056, yMin: 1e-4, yMax: 10, log: true,
    yTicks: [1, 1e-2, 1e-4], yTickLabels: [0, -2, -4].map(pow), yMinor: [],
    xTicks: xTicksRight, xTickLabels: null,
    yLabel: [["M", "dot"], ["BH", "sub"], [" [M"], ["\u2299", "sub"], [" yr"], ["\u22121", "sup"], ["]"]] as Seg[], yLabelX: 633,
    mk: () => rightSets(
      cat(P(mdPreT, mdPrePrim), P(mdSglPrimT, mdSglPrim, 1e-6)),
      cat(P(mdPreSecT, mdPreSec), P(mdSglSecT, mdSglSec, 1e-6)),
      cat(P(mdPreT, mdPrePrim), P(mdBinPrimT, mdBinPrim, 1e-6)),
      cat(P(mdPreSecT, mdPreSec), P(mdBinSecT, mdBinSec, 1e-6)),
      1e-4, 10),
    notes: [],
  },
  {
    id: "R4", ...frame(1, 3, false), xMin: 1.5, xMax: 2.056, yMin: 1e5, yMax: 1e11, log: true,
    yTicks: [1e11, 1e8, 1e5], yTickLabels: [11, 8, 5].map(pow), yMinor: [],
    xTicks: xTicksRight, xTickLabels: null,
    yLabel: [["\u03c1", "i"], [" [M"], ["\u2299", "sub"], [" kpc"], ["\u22123", "sup"], ["]"]] as Seg[], yLabelX: 637,
    mk: () => rightSets(
      cat(P(rhoPreT, rhoPrePrim), P(rhoSglPrimT, rhoSglPrim, 1e3)),
      cat(P(rhoPreSecT, rhoPreSec), P(rhoSglSecT, rhoSglSec, 1e3)),
      cat(P(rhoPreT, rhoPrePrim), P(rhoBinPrimT, rhoBinPrim, 1e3)),
      cat(P(rhoPreSecT, rhoPreSec), P(rhoBinSecT, rhoBinSec, 1e3)),
      1e5, 1e11),
    notes: [],
  },
  {
    id: "R5", ...frame(1, 4, false), xMin: 1.5, xMax: 2.056, yMin: 10, yMax: 1e5, log: true,
    yTicks: [1e5, 1e3, 10], yTickLabels: [5, 3, 1].map(pow), yMinor: [],
    xTicks: xTicksRight, xTickLabels: null,
    yLabel: [["c", "i"], ["s", "sub"], [" [km s"], ["\u22121", "sup"], ["]"]] as Seg[], yLabelX: 644,
    mk: () => rightSets(
      cat(P(csPreT, csPrePrim), P(csSglPrimT, csSglPrim, 1)),
      cat(P(csPreT, csPreSec), P(csSglSecT, csSglSec, 1)),
      cat(P(csPreT, csPrePrim), P(csBinPrimT, csBinPrim, 1)),
      cat(P(csPreT, csPreSec), P(csBinSecT, csBinSec, 1)),
      10, 1e5),
    notes: [],
    legend: {
      box: [706, 808, 982, 870],
      rows: [
        { text: "Binary acc, primary BH", color: RG, x: 713.8, y: 832.7 },
        { text: "Binary acc, secondary BH", color: RC, x: 713.8, y: 861.7 },
      ],
    },
  },
  {
    id: "R6", ...frame(1, 5, true), xMin: 1.5, xMax: 2.056, yMin: 10, yMax: 1e5, log: true,
    yTicks: [1e5, 1e3, 10], yTickLabels: [5, 3, 1].map(pow), yMinor: [],
    xTicks: xTicksRight, xTickLabels: xTickTextRight, xLabel: "Time [Gyr]",
    yLabel: [["v", "i"], ["rel", "sub"], [" [km s"], ["\u22121", "sup"], ["]"]] as Seg[], yLabelX: 644,
    mk: () => rightSets(
      cat(P(vPreT, vPrePrim), P(vSglPrimT, vSglPrim, 1)),
      cat(P(vPreT, vPreSec), P(vSglSecT, vSglSec, 1)),
      cat(P(vPreT, vPrePrim), P(vBinPrimT, vBinPrim, 1)),
      cat(P(vPreT, vPreSec), P(vBinSecT, vBinSec, 1)),
      10, 1e5),
    notes: [],
  },
];

function makeDeco(p: any) {
  return {
    id: "deco" + p.id,
    afterDraw(chart: any) {
      const ctx: CanvasRenderingContext2D = chart.ctx;
      const a = chart.chartArea;
      const xs = chart.scales.x;
      const ys = chart.scales.y;
      const ox = p.cx, oy = p.cy;
      ctx.save();
      // rotated annotations
      for (const n of p.notes) {
        ctx.save();
        ctx.translate(n.x - ox, n.y - oy);
        ctx.rotate(-Math.PI / 2);
        drawRich(ctx, n.segs, 0, 0, FS, n.color, "left");
        ctx.restore();
      }
      // legend
      if (p.legend) {
        const [x0, y0, x1, y1] = p.legend.box;
        ctx.beginPath();
        (ctx as any).roundRect(x0 - ox, y0 - oy, x1 - x0, y1 - y0, 6);
        ctx.fillStyle = "rgba(255,255,255,0.8)";
        ctx.fill();
        ctx.strokeStyle = "#666";
        ctx.lineWidth = 1;
        ctx.stroke();
        for (const r of p.legend.rows) drawRich(ctx, [[r.text]], r.x - ox, r.y - oy, FS, r.color, "left");
      }
      // frame
      ctx.strokeStyle = "#000";
      ctx.lineWidth = 1.2;
      ctx.strokeRect(a.left, a.top, a.right - a.left, a.bottom - a.top);
      // major ticks
      ctx.lineWidth = 1;
      ctx.beginPath();
      for (const v of p.yTicks) {
        const y = ys.getPixelForValue(v);
        ctx.moveTo(a.left, y); ctx.lineTo(a.left + 8, y);
        ctx.moveTo(a.right, y); ctx.lineTo(a.right - 8, y);
      }
      for (const v of p.xTicks) {
        const x = xs.getPixelForValue(v);
        ctx.moveTo(x, a.bottom); ctx.lineTo(x, a.bottom - 8);
        ctx.moveTo(x, a.top); ctx.lineTo(x, a.top + 8);
      }
      ctx.stroke();
      // minor ticks
      ctx.lineWidth = 0.8;
      ctx.beginPath();
      for (const v of p.yMinor) {
        const y = ys.getPixelForValue(v);
        ctx.moveTo(a.left, y); ctx.lineTo(a.left + 4, y);
        ctx.moveTo(a.right, y); ctx.lineTo(a.right - 4, y);
      }
      ctx.stroke();
      // y tick labels
      p.yTicks.forEach((v: number, i: number) => {
        const y = ys.getPixelForValue(v);
        drawRich(ctx, p.yTickLabels[i], a.left - 6, y + 8, FS, "#000", "right");
      });
      // x tick labels
      if (p.xTickLabels) {
        p.xTicks.forEach((v: number, i: number) => {
          const x = xs.getPixelForValue(v);
          drawRich(ctx, [[p.xTickLabels[i]]], x, a.bottom + 24, FS, "#000", "center");
        });
      }
      // axis labels
      ctx.save();
      ctx.translate(p.yLabelX - ox, (p.top + p.bottom) / 2 - oy);
      ctx.rotate(-Math.PI / 2);
      drawRich(ctx, p.yLabel, 0, 0, FS, "#000", "center");
      ctx.restore();
      if (p.xLabel) drawRich(ctx, [[p.xLabel]], (p.left + p.right) / 2 - ox, 1196 - oy, FS, "#000", "center");
      ctx.restore();
    },
  };
}

function config(p: any): any {
  return {
    type: "line",
    data: { datasets: p.mk() },
    options: {
      animation: false,
      responsive: false,
      devicePixelRatio: 1,
      events: [],
      layout: { padding: { left: p.left - p.cx, right: p.cx + p.cw - p.right, top: p.top - p.cy, bottom: p.cy + p.ch - p.bottom } },
      scales: {
        x: { type: "linear", min: p.xMin, max: p.xMax, display: false, bounds: "data" },
        y: { type: p.log ? "logarithmic" : "linear", min: p.yMin, max: p.yMax, display: false, bounds: "data" },
      },
      plugins: { legend: { display: false }, tooltip: { enabled: false }, title: { display: false } },
      elements: { point: { radius: 0, hoverRadius: 0 }, line: { tension: 0, borderJoinStyle: "round" } },
    },
    plugins: [makeDeco(p)],
  };
}

function PanelCanvas({ p }: { p: any }) {
  const ref = useRef<HTMLCanvasElement | null>(null);
  useEffect(() => {
    if (!ref.current) return;
    const chart = new Chart(ref.current, config(p));
    return () => chart.destroy();
  }, [p]);
  return (
    <canvas
      ref={ref}
      width={p.cw}
      height={p.ch}
      style={{ position: "absolute", left: p.cx, top: p.cy, width: p.cw, height: p.ch, display: "block" }}
    />
  );
}

export default function App() {
  return (
    <div style={{ position: "absolute", left: 0, top: 0, width: 1200, height: 1204, background: "#fff", overflow: "hidden" }}>
      <div
        style={{
          position: "absolute", left: 0, top: 5, width: 1200, textAlign: "center",
          fontFamily: FONT, fontSize: 26, lineHeight: "26px", color: "#000", whiteSpace: "nowrap",
        }}
      >
        DD-11-G15, thermal feedback
      </div>
      {PANELS.map((p) => (
        <PanelCanvas key={p.id} p={p} />
      ))}
    </div>
  );
}
